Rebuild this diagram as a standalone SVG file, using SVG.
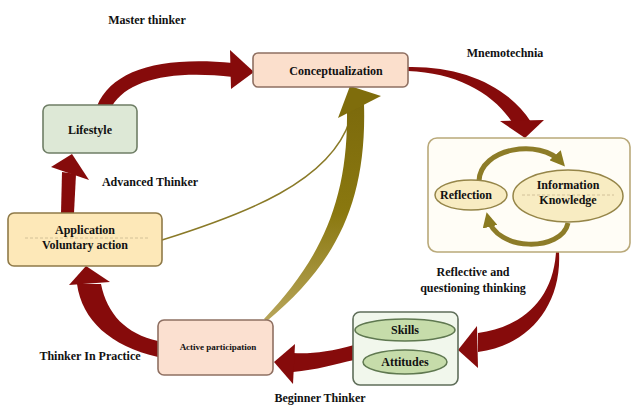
<svg xmlns="http://www.w3.org/2000/svg" width="632" height="408" viewBox="0 0 632 408">
<defs>
<style>
text{font-family:"Liberation Serif","Times New Roman",serif;font-weight:bold;fill:#111;text-anchor:middle}
.t{font-size:12px}
.s{font-size:9px}
.red{fill:#860b0b}
.gold{fill:#7f6d0c}
.box{stroke-width:1.6}
.sep{stroke:#c8b890;stroke-width:0.8;stroke-dasharray:3 2;fill:none}
</style>
<linearGradient id="gOl" x1="0" y1="1" x2="0" y2="0">
<stop offset="0" stop-color="#b7a55a"/>
<stop offset="0.5" stop-color="#8a780f"/>
<stop offset="1" stop-color="#7c6a0c"/>
</linearGradient>
<marker id="mh" viewBox="0 0 10 10" refX="6" refY="5" markerWidth="3" markerHeight="3" orient="auto">
<path d="M0 0 L10 5 L0 10 Z" fill="#8a7a20"/>
</marker>
</defs>
<rect width="632" height="408" fill="#fff"/>

<g id="labels">
<text class="t" x="147" y="24">Master thinker</text>
<text class="t" x="505" y="57">Mnemotechnia</text>
<text class="t" x="150" y="186">Advanced Thinker</text>
<text class="t" x="473" y="276">Reflective and</text>
<text class="t" x="473" y="292">questioning thinking</text>
<text class="t" x="90" y="360">Thinker In Practice</text>
<text class="t" x="320" y="402">Beginner Thinker</text>
</g>

<g id="connectors">
<!-- Lifestyle -> Conceptualization -->
<path class="red" d="M97 106 C112 70 160 56 233 63 L233 77 C170 70 128 80 112 106 Z"/>
<path class="red" d="M230 50 L254 72 L231 89 Z"/>
<!-- Conceptualization -> reflection box -->
<path class="red" d="M408 67 C462 66 508 86 531 122 L512 122 C492 92 456 73 408 71 Z"/>
<path class="red" d="M500 121 L544 120 L525 138 Z"/>
<!-- reflection box -> skills -->
<path class="red" d="M556 252 C553 300 522 327 478 333 L478 352 C528 346 562 306 559 252 Z"/>
<path class="red" d="M477 326 L478 368 L458 350 Z"/>
<!-- skills -> active participation -->
<path class="red" d="M354 345 C330 352 310 354 293 353 L293 372 C316 370 336 364 354 360 Z"/>
<path class="red" d="M295 344 L293 384 L274 362 Z"/>
<!-- active participation -> application -->
<path class="red" d="M158 357 C110 346 82 320 77 284 L101 284 C107 314 126 334 158 341 Z"/>
<path class="red" d="M69 285 L110 282 L86 266 Z"/>
<!-- application -> lifestyle -->
<path class="red" d="M61 213 L62 172 L76 174 L74 213 Z"/>
<path class="red" d="M51 167 L89 180 L72 154 Z"/>
<!-- application -> conceptualization (thin) -->
<path d="M162 240 C245 214 330 182 350 120" fill="none" stroke="#8a7a28" stroke-width="1.5"/>
<!-- active participation -> conceptualization (thick) -->
<path fill="url(#gOl)" d="M264 319 C318 262 348 205 347 112 L364 104 C367 205 334 265 267 321 Z"/>
<path class="gold" d="M338 118 L381 96 L350 86 Z"/>
</g>

<g id="conceptualization">
<rect class="box" x="253" y="53" width="155" height="34" rx="5" fill="#fbdfcc" stroke="#8f7062"/>
<text class="t" x="336" y="75">Conceptualization</text>
</g>

<g id="lifestyle">
<rect class="box" x="43" y="105" width="94" height="48" rx="6" fill="#dde8d6" stroke="#6f7e66"/>
<text class="t" x="90" y="134">Lifestyle</text>
</g>

<g id="application">
<rect class="box" x="8" y="213" width="154" height="53" rx="6" fill="#fde8b8" stroke="#8f7a48"/>
<line class="sep" x1="25" y1="238" x2="148" y2="238"/>
<text class="t" x="85" y="234">Application</text>
<text class="t" x="85" y="249">Voluntary action</text>
</g>

<g id="active-participation">
<rect class="box" x="158" y="320" width="115" height="55" rx="6" fill="#fbe0d0" stroke="#8f7062"/>
<text class="s" x="218" y="350">Active participation</text>
</g>

<g id="skills-attitudes">
<rect class="box" x="353" y="312" width="105" height="73" rx="7" fill="#f1f7ec" stroke="#5f6e5a"/>
<ellipse cx="405" cy="330" rx="50" ry="11" fill="#c6dcaa" stroke="#5f7850" stroke-width="1.5"/>
<text class="t" x="405" y="334">Skills</text>
<ellipse cx="405" cy="362" rx="42" ry="12" fill="#c6dcaa" stroke="#5f7850" stroke-width="1.5"/>
<text class="t" x="405" y="366">Attitudes</text>
</g>

<g id="reflection-cycle">
<rect class="box" x="428" y="138" width="202" height="114" rx="9" fill="#fffdf6" stroke="#b9a97a"/>
<path d="M479 181 C480 148 540 138 561 162" fill="none" stroke="#8d7c28" stroke-width="5" marker-end="url(#mh)"/>
<path d="M568 223 C562 252 496 252 488 218" fill="none" stroke="#8d7c28" stroke-width="5" marker-end="url(#mh)"/>
<ellipse cx="471" cy="195" rx="36" ry="15" fill="#f8ecc2" stroke="#958548" stroke-width="1.5"/>
<text class="t" x="466" y="199">Reflection</text>
<ellipse cx="568" cy="196" rx="55" ry="26" fill="#f8ecc2" stroke="#958548" stroke-width="1.5"/>
<line class="sep" x1="522" y1="195" x2="614" y2="195"/>
<text class="t" x="568" y="189">Information</text>
<text class="t" x="568" y="204">Knowledge</text>
</g>
</svg>
